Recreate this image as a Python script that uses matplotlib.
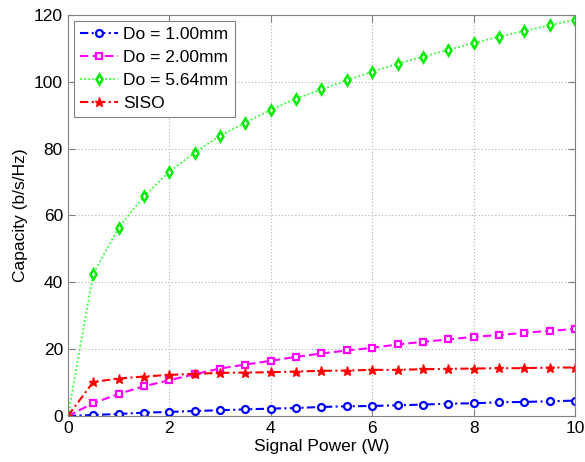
import matplotlib
matplotlib.use("Agg")
import matplotlib.pyplot as plt

x = [0, 0.5, 1, 1.5, 2, 2.5, 3, 3.5, 4, 4.5, 5, 5.5, 6, 6.5, 7, 7.5, 8, 8.5, 9, 9.5, 10]
do1 = [0, 0.3, 0.6, 1.0, 1.2, 1.5, 1.7, 2.0, 2.2, 2.4, 2.7, 2.9, 3.0, 3.2, 3.4, 3.7, 3.8, 4.1, 4.2, 4.4, 4.6]
do2 = [0, 3.8, 6.6, 8.9, 10.7, 12.5, 14.2, 15.4, 16.5, 17.7, 18.7, 19.6, 20.4, 21.4, 22.2, 22.9, 23.7, 24.2, 24.9, 25.5, 26.0]
do564 = [0, 42.6, 56.3, 65.7, 73.1, 78.8, 83.9, 87.8, 91.6, 95.0, 97.7, 100.5, 103.0, 105.4, 107.5, 109.6, 111.6, 113.5, 115.2, 116.9, 118.6]
siso = [0, 10.2, 11.2, 11.8, 12.3, 12.6, 12.9, 13.0, 13.1, 13.3, 13.5, 13.6, 13.8, 13.8, 14.0, 14.1, 14.2, 14.3, 14.3, 14.5, 14.5]
labels = ["Do = 1.00mm", "Do = 2.00mm", "Do = 5.64mm", "SISO"]

plt.rcParams['font.family'] = ['Liberation Sans', 'DejaVu Sans']
fig = plt.figure(figsize=(5.85, 4.62), dpi=100)
ax = fig.add_axes([0.116, 0.0996, 0.867, 0.868])

ax.plot(x, do1, color='#0000ff', linestyle=(0, (4, 1.6, 1, 1.6)), lw=1.5, marker='o', ms=5, mfc='white', mew=1.6, label=labels[0])
ax.plot(x, do2, color='#ff00ff', linestyle=(0, (4, 2)), lw=1.5, marker='s', ms=5, mfc='white', mew=1.6, label=labels[1])
ax.plot(x, do564, color='#33ff33', linestyle=(0, (1, 1.3)), lw=1.3, marker='d', ms=5, mfc='white', mec='#00ee00', mew=1.8, label=labels[2])
ax.plot(x, siso, color='#ff0000', linestyle=(0, (4, 1.6, 1, 1.6)), lw=1.5, marker='*', ms=6.5, label=labels[3])

ax.set_xlim(0, 10)
ax.set_ylim(0, 120)
ax.set_xticks(range(0, 11, 2))
ax.set_yticks(range(0, 121, 20))
ax.grid(True, linestyle=(0, (1, 2)), color='#b0b0b0', lw=0.8)
for s in ax.spines.values():
    s.set_color('#808080')
ax.tick_params(direction='in', colors='black', labelsize=12.5, length=5, color='#808080', top=True, right=True)
ax.set_xlabel('Signal Power (W)', fontsize=12.5, labelpad=2)
ax.set_ylabel('Capacity (b/s/Hz)', fontsize=12.5, labelpad=4)

leg = ax.legend(loc='upper left', fontsize=12.5, fancybox=False, framealpha=1, edgecolor='#808080',
                borderaxespad=0.35, handlelength=2.2, handletextpad=0.3, labelspacing=0.45, borderpad=0.35)
leg.get_frame().set_linewidth(0.8)

fig.savefig('out.png', dpi=100)
